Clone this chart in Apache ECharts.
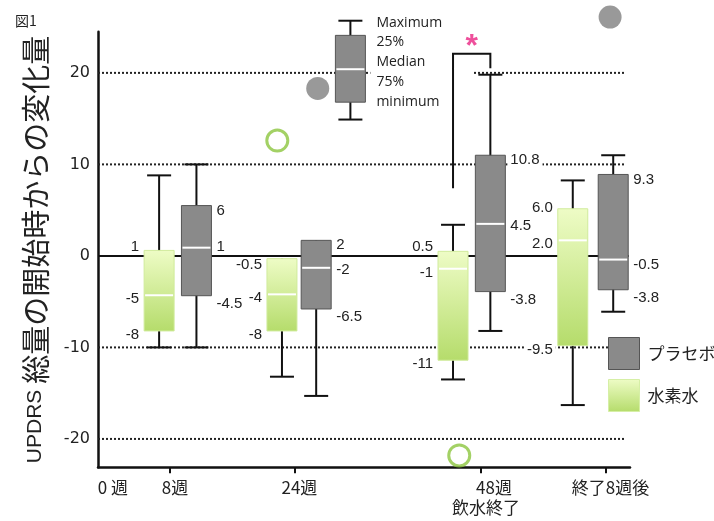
<!DOCTYPE html>
<html><head><meta charset="utf-8">
<script src="https://cdn.jsdelivr.net/npm/echarts@6/dist/echarts.min.js"></script>
<style>html,body{margin:0;padding:0;background:#fff}#c{width:714px;height:521px}</style>
</head><body><div id="c"></div>
<script>
// ---- data ----
const xTickWeeks = [8, 24, 48, 64];
const xLabelWeeks = [0, 8, 24, 48, 64];
const xLabels = ['0 週', '8週', '24週', '48週\n飲水終了', '終了8週後'];
const yTicks = [-20, -10, 0, 10, 20];
const gridValues = [-20, -10, 10, 20];
const seriesNames = ['プラセボ', '水素水'];
// box centre positions on the week scale
const hydrogenX = [6.6, 22.4, 44.4, 59.8];
const placeboX = [11.4, 26.8, 49.2, 65.0];
// [min, lower quartile, median, upper quartile, max]
const hydrogenBoxes = [
  [-10, -8.2, -4.3, 0.6, 8.8],
  [-13.2, -8.2, -4.2, -0.3, -0.3],
  [-13.5, -11.4, -1.4, 0.5, 3.4],
  [-16.3, -9.8, 1.7, 5.15, 8.25]
];
const placeboBoxes = [
  [-10, -4.35, 0.9, 5.5, 10],
  [-15.3, -5.8, -1.3, 1.7, 1.7],
  [-8.2, -3.9, 3.5, 11.0, 19.8],
  [-6.1, -3.7, -0.4, 8.9, 11.0]
];
// printed numbers: [upper, median, lower]
const hydrogenLabels = [['1', '-5', '-8'], ['-0.5', '-4', '-8'], ['0.5', '-1', '-11'], ['6.0', '2.0', '-9.5']];
const placeboLabels = [['6', '1', '-4.5'], ['2', '-2', '-6.5'], ['10.8', '4.5', '-3.8'], ['9.3', '-0.5', '-3.8']];
const hydrogenOutliers = [[21.8, 12.6], [45.2, -21.8]];
const placeboOutliers = [[27.0, 18.3], [64.6, 26.1]];
// explanatory key box
const keyX = [31.2];
const keyBox = [14.9, 16.8, 20.4, 24.1, 25.7];
const keyLabels = ['Maximum', '25%', 'Median', '75%', 'minimum'];
// significance bracket: left leg bottom, bracket top, right leg bottom
const sigY = [7.4, 22.1, 20.5];
const sigMark = '*';
const figTitle = '図1';
const yName = ['UPDRS ', '総量の開始時からの変化量'];

// ---- styling / layout ----
const X_MIN = -1.26, X_MAX = 67.16, Y_MIN = -23.1, Y_MAX = 24.5, LINE_END = 66.6;
const HW = 15, CAP = 12;
const greenGrad = () => new echarts.graphic.LinearGradient(0, 0, 0, 1, [
  { offset: 0, color: '#eefcc6' }, { offset: 1, color: '#b5dc6b' }]);
const GREY = '#8a8a8a', GREY_EDGE = '#555555';
const TXT = '#222';
// vertical nudges (px) for [upper, median, lower] labels on each side
const LABEL_NUDGE = { left: [-1, 4, 4], right: [5, 2, 8] };

function boxData(xs, boxes) { return xs.map((x, i) => [x].concat(boxes[i])); }

function boxShapes(api, fill, stroke) {
  const x = api.value(0);
  const v = [1, 2, 3, 4, 5].map(i => api.value(i));
  const p = v.map(val => api.coord([x, val]));
  const cx = p[0][0];
  const yMin = p[0][1], yQ1 = p[1][1], yMed = p[2][1], yQ3 = p[3][1], yMax = p[4][1];
  const ch = [];
  const ls = { stroke: '#111', lineWidth: 2 };
  ch.push({ type: 'line', shape: { x1: cx, y1: yMax, x2: cx, y2: yMin }, style: ls });
  if (v[4] > v[3]) ch.push({ type: 'line', shape: { x1: cx - CAP, y1: yMax, x2: cx + CAP, y2: yMax }, style: ls });
  if (v[0] < v[1]) ch.push({ type: 'line', shape: { x1: cx - CAP, y1: yMin, x2: cx + CAP, y2: yMin }, style: ls });
  ch.push({ type: 'rect', shape: { x: cx - HW, y: yQ3, width: 2 * HW, height: yQ1 - yQ3 }, style: { fill: fill, stroke: stroke, lineWidth: 1 } });
  ch.push({ type: 'line', shape: { x1: cx - HW + 1, y1: yMed, x2: cx + HW - 1, y2: yMed }, style: { stroke: '#fff', lineWidth: 2 } });
  return { ch, cx, yMax, yQ3, yMed, yQ1 };
}

function boxSeries(name, xs, boxes, fillFn, stroke) {
  return {
    type: 'custom', name: name, z: 4, data: boxData(xs, boxes),
    encode: { x: 0, y: [1, 2, 3, 4, 5] },
    renderItem: (params, api) => ({ type: 'group', children: boxShapes(api, fillFn(), stroke).ch })
  };
}

function labelSeries(xs, boxes, labels, side) {
  return {
    type: 'custom', name: 'lab' + side, z: 2, data: boxData(xs, boxes),
    encode: { x: 0, y: [1, 2, 3, 4, 5] },
    renderItem: (params, api) => {
      const x = api.value(0);
      const cx = api.coord([x, 0])[0];
      const zy = api.coord([x, 0])[1];
      const ys = [api.value(4), api.value(3), api.value(2)].map(v => api.coord([x, v])[1]);
      const tx = side === 'left' ? cx - HW - 2 : cx + HW + 2;
      const texts = labels[params.dataIndex];
      return {
        type: 'group', children: texts.map((t, k) => {
          let y = ys[k] + LABEL_NUDGE[side][k];
          // keep labels off the zero line, on the side of their sign
          if (Math.abs(y - zy) < 9) y = parseFloat(t) >= 0 ? zy - 9 : zy + 9;
          return {
            type: 'text', x: tx, y: y,
            style: {
              text: t, fill: TXT, fontSize: 15, fontFamily: 'Liberation Sans, Arial, sans-serif',
              align: side === 'left' ? 'right' : 'left', verticalAlign: 'middle',
              backgroundColor: '#fff', padding: [0, 3, 0, 3], lineHeight: 14
            }
          };
        })
      };
    }
  };
}

const chart = echarts.init(document.getElementById('c'), null, { renderer: 'canvas' });
chart.setOption({
  animation: false,
  backgroundColor: '#fff',
  title: { text: figTitle, left: 10, top: 9, textStyle: { fontSize: 14, fontWeight: 'normal', color: TXT, fontFamily: 'Noto Sans CJK JP' } },
  grid: { left: 98, right: 84, top: 31.7, bottom: 53.7 },
  legend: {
    orient: 'vertical', left: 608, top: 337, padding: 0, itemWidth: 31, itemHeight: 32, itemGap: 9,
    icon: 'rect', selectedMode: false,
    textStyle: { fontSize: 17, color: TXT, fontFamily: 'Noto Sans CJK JP', padding: [0, 0, 0, 3] },
    data: [
      { name: seriesNames[0], itemStyle: { color: GREY, borderColor: GREY_EDGE, borderWidth: 1 } },
      { name: seriesNames[1], itemStyle: { color: greenGrad(), borderColor: '#d6efa6', borderWidth: 1 } }
    ]
  },
  xAxis: {
    type: 'value', min: X_MIN, max: X_MAX,
    axisLine: { onZero: false, lineStyle: { color: '#111', width: 2.5 } },
    axisTick: { show: true, customValues: xTickWeeks, length: 6, lineStyle: { color: '#111', width: 2 } },
    splitLine: { show: false },
    axisLabel: {
      customValues: xLabelWeeks, margin: 10, color: TXT,
      formatter: v => {
        const t = xLabels[xLabelWeeks.indexOf(v)] || '';
        const parts = t.split('\n');
        return parts.length > 1 ? '{a|' + parts[0] + '}\n{b|' + parts[1] + '}' : '{b|' + t + '}';
      },
      rich: {
        a: { fontSize: 17, fontFamily: 'Noto Sans CJK JP', color: TXT, lineHeight: 20, padding: [0, 0, 0, 26] },
        b: { fontSize: 17, fontFamily: 'Noto Sans CJK JP', color: TXT, lineHeight: 20, padding: [0, 0, 0, 10] }
      }
    }
  },
  yAxis: {
    type: 'value', min: Y_MIN, max: Y_MAX,
    axisLine: { show: true, onZero: false, lineStyle: { color: '#111', width: 2.5 } },
    axisTick: { show: false },
    splitLine: { show: false },
    axisLabel: { customValues: yTicks, fontSize: 16, color: TXT, margin: 8, fontFamily: 'DejaVu Sans' },
    name: '{a|' + yName[0] + '}{b|' + yName[1] + '}',
    nameLocation: 'middle', nameRotate: 90, nameGap: 48,
    nameTextStyle: {
      rich: {
        a: { fontSize: 21, fontFamily: 'Liberation Sans Narrow, Liberation Sans', color: TXT },
        b: { fontSize: 29, fontFamily: 'Noto Sans CJK JP', color: TXT }
      }
    }
  },
  series: [
    { // dotted grid lines
      type: 'custom', name: 'grid', z: 1, data: gridValues.map(v => [X_MIN, v]),
      encode: { x: 0, y: 1 },
      renderItem: (params, api) => {
        const a = api.coord([X_MIN, api.value(1)]), b = api.coord([LINE_END, api.value(1)]);
        return { type: 'line', shape: { x1: a[0], y1: a[1], x2: b[0], y2: b[1] }, style: { stroke: '#222', lineWidth: 2, lineDash: [2, 2] } };
      }
    },
    { // zero line
      type: 'custom', name: 'zero', z: 3, data: [[X_MIN, 0]],
      encode: { x: 0, y: 1 },
      renderItem: (params, api) => {
        const a = api.coord([X_MIN, 0]), b = api.coord([LINE_END + 0.4, 0]);
        return { type: 'line', shape: { x1: a[0], y1: a[1], x2: b[0], y2: b[1] }, style: { stroke: '#111', lineWidth: 2 } };
      }
    },
    labelSeries(hydrogenX, hydrogenBoxes, hydrogenLabels, 'left'),
    labelSeries(placeboX, placeboBoxes, placeboLabels, 'right'),
    boxSeries(seriesNames[0], placeboX, placeboBoxes, () => GREY, GREY_EDGE),
    boxSeries(seriesNames[1], hydrogenX, hydrogenBoxes, greenGrad, '#d0eb9c'),
    { // explanatory key
      type: 'custom', name: 'key', z: 4, clip: false, data: [[keyX[0]].concat(keyBox)],
      encode: { x: 0, y: [1, 2, 3, 4, 5] },
      renderItem: (params, api) => {
        const r = boxShapes(api, GREY, GREY_EDGE);
        r.ch.push({
          type: 'text', x: r.cx + HW + 5, y: r.yMax - 8,
          style: {
            text: keyLabels.join('\n'), fill: TXT, fontSize: 14, fontFamily: 'Open Sans', lineHeight: 19.8,
            align: 'left', verticalAlign: 'top', backgroundColor: '#fff', padding: [0, 30, 0, 6]
          }
        });
        return { type: 'group', children: r.ch };
      }
    },
    {
      type: 'scatter', name: 'outP', z: 5, clip: false, data: placeboOutliers, symbolSize: 23,
      itemStyle: { color: '#808080' }
    },
    {
      type: 'scatter', name: 'outH', z: 5, clip: false, data: hydrogenOutliers, symbolSize: 21,
      itemStyle: { color: '#fff', borderColor: '#8cc63f', borderWidth: 3 }
    },
    { // significance bracket
      type: 'custom', name: 'sig', z: 6, clip: false, data: [[hydrogenX[2], sigY[1]]],
      encode: { x: 0, y: 1 },
      renderItem: (params, api) => {
        const p = [
          api.coord([hydrogenX[2], sigY[0]]), api.coord([hydrogenX[2], sigY[1]]),
          api.coord([placeboX[2], sigY[1]]), api.coord([placeboX[2], sigY[2]])
        ];
        return {
          type: 'group', children: [
            { type: 'polyline', shape: { points: p }, style: { stroke: '#111', lineWidth: 2, fill: null } },
            {
              type: 'text', x: (p[1][0] + p[2][0]) / 2, y: p[1][1] - 6,
              style: { text: sigMark, fill: '#ee4f9b', fontSize: 32, fontWeight: 'bold', fontFamily: 'Liberation Sans', align: 'center', verticalAlign: 'middle' }
            }
          ]
        };
      }
    }
  ]
});
</script></body></html>
